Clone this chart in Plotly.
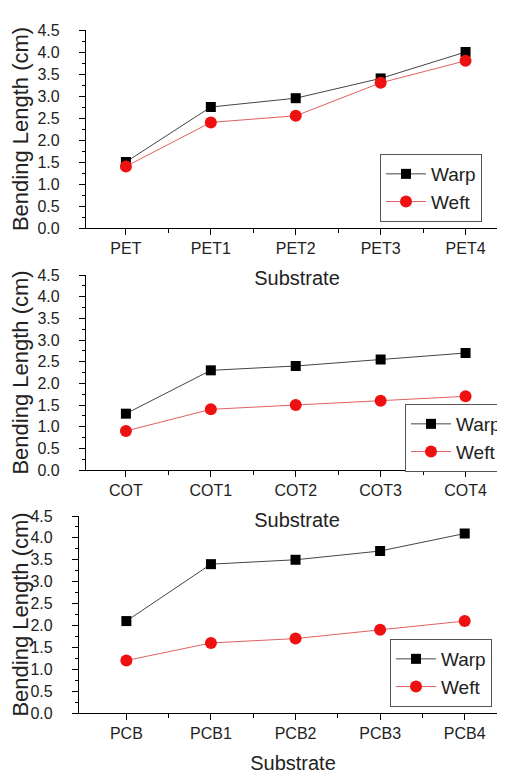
import plotly.graph_objects as go

# ---- data ----
pet_cats = ["PET", "PET1", "PET2", "PET3", "PET4"]
pet_warp = [1.5, 2.75, 2.95, 3.4, 4.0]
pet_weft = [1.4, 2.4, 2.55, 3.3, 3.8]

cot_cats = ["COT", "COT1", "COT2", "COT3", "COT4"]
cot_warp = [1.3, 2.3, 2.4, 2.55, 2.7]
cot_weft = [0.9, 1.4, 1.5, 1.6, 1.7]

pcb_cats = ["PCB", "PCB1", "PCB2", "PCB3", "PCB4"]
pcb_warp = [2.1, 3.4, 3.5, 3.7, 4.1]
pcb_weft = [1.2, 1.6, 1.7, 1.9, 2.1]

y_ticks = [0.0, 0.5, 1.0, 1.5, 2.0, 2.5, 3.0, 3.5, 4.0, 4.5]

W, H = 505, 776
FONT = "Liberation Sans, Arial, sans-serif"

panels = [
    # cats, warp, weft, y top px, y bottom px, x left px, x right px, xmin, legend x px, legend top px
    (pet_cats, pet_warp, pet_weft, 22, 220, 78, 500, -0.47, 372, 146),
    (cot_cats, cot_warp, cot_weft, 267, 462, 78, 500, -0.47, 397, 396),
    (pcb_cats, pcb_warp, pcb_weft, 508, 705, 71, 499, -0.56, 382, 631),
]

fig = go.Figure()
layout = dict(
    width=W, height=H,
    margin=dict(l=0, r=0, t=0, b=0, autoexpand=False),
    paper_bgcolor="white", plot_bgcolor="white",
    font=dict(family=FONT, color="#222"),
)

for i, (cats, warp, weft, ytop, ybot, xl, xr, xmin, lx, ly) in enumerate(panels):
    n = "" if i == 0 else str(i + 1)
    lg = "legend" if i == 0 else "legend" + str(i + 1)
    xs = list(range(len(cats)))
    fig.add_trace(go.Scatter(
        x=xs, y=warp, name="Warp", mode="lines+markers",
        xaxis="x" + n, yaxis="y" + n, legend=lg,
        line=dict(color="#444444", width=1),
        marker=dict(symbol="square", size=10, color="black"),
    ))
    fig.add_trace(go.Scatter(
        x=xs, y=weft, name="Weft", mode="lines+markers",
        xaxis="x" + n, yaxis="y" + n, legend=lg,
        line=dict(color="#e06060", width=1),
        marker=dict(symbol="circle", size=12, color="#ee1111"),
    ))
    layout["xaxis" + n] = dict(
        domain=[xl / W, xr / W], anchor="y" + n,
        range=[xmin, 4.5], tickmode="array", tickvals=xs, ticktext=cats,
        showline=True, linecolor="black", linewidth=1.2,
        ticks="outside", ticklen=6, tickcolor="black",
        minor=dict(tickmode="array", tickvals=[0.5, 1.5, 2.5, 3.5, 4.5],
                   ticks="outside", ticklen=4, tickcolor="black"),
        showgrid=False, zeroline=False,
        tickfont=dict(size=16, family=FONT, color="#222"),
        ticklabelstandoff=0,
        title=dict(text="Substrate", font=dict(size=20, family=FONT, color="#222"),
                   standoff=14),
    )
    layout["yaxis" + n] = dict(
        domain=[1 - ybot / H, 1 - ytop / H], anchor="x" + n,
        range=[0, 4.5], tickmode="array", tickvals=y_ticks,
        tickformat=".1f",
        showline=True, linecolor="black", linewidth=1.2,
        ticks="outside", ticklen=6, tickcolor="black",
        minor=dict(dtick=0.25, tick0=0, ticks="outside", ticklen=3, tickcolor="black"),
        showgrid=False, zeroline=False,
        tickfont=dict(size=16, family=FONT, color="#222"),
        ticklabelstandoff=16,
        title=dict(text="Bending Length (cm)", font=dict(size=22, family=FONT, color="#222"),
                   standoff=2),
    )
    layout[lg] = dict(
        x=lx / W, y=1 - ly / H, xanchor="left", yanchor="top",
        bordercolor="#555", borderwidth=1, bgcolor="white",
        font=dict(size=19, family=FONT, color="#222"),
        tracegroupgap=0, itemwidth=40,
    )

fig.update_layout(**layout)
fig.write_html("out.html")
